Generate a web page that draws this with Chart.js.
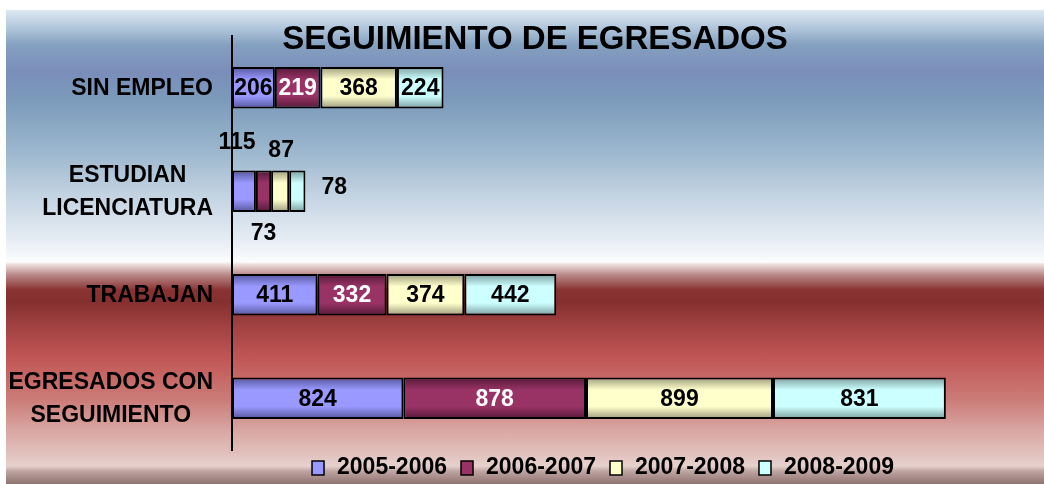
<!DOCTYPE html>
<html>
<head>
<meta charset="utf-8">
<script src="https://cdn.jsdelivr.net/npm/chart.js@4.4.0/dist/chart.umd.min.js"></script>
<style>
html,body{margin:0;padding:0;background:#fff;}
#wrap{position:relative;width:1044px;height:484px;overflow:hidden;}
#bg{position:absolute;left:6px;top:10px;width:1038px;height:474px;
background:linear-gradient(to bottom,
#dde9f3 0px,#acc2d8 20px,#84a0c0 35px,#7a8db9 62px,#7b9bbb 90px,#9bb6cd 140px,#c7d6e4 190px,#e6edf4 230px,#fbfcfd 252px,
#f0e2e0 254px,#b88888 265px,#8a3232 280px,#853030 292px,#a54444 320px,#c25856 350px,#cb7c78 390px,#d9a6a2 420px,#e2c2be 445px,#e6d2ce 456px,#c0a6a2 461px,#8e7270 474px);}
canvas{position:absolute;left:0;top:0;}
</style>
</head>
<body>
<div id="wrap"><div id="bg"></div><canvas id="c" width="1044" height="484"></canvas></div>
<script>
const chartTitle = 'SEGUIMIENTO DE EGRESADOS';
const categories = [['SIN EMPLEO'], ['ESTUDIAN', 'LICENCIATURA'], ['TRABAJAN'], ['EGRESADOS CON', 'SEGUIMIENTO']];
const seriesNames = ['2005-2006', '2006-2007', '2007-2008', '2008-2009'];
const values2005_2006 = [206, 115, 411, 824];
const values2006_2007 = [219, 73, 332, 878];
const values2007_2008 = [368, 87, 374, 899];
const values2008_2009 = [224, 78, 442, 831];

const baseColors = ['#9999ff', '#993366', '#ffffcc', '#ccffff'];
const darkColors = ['#56569c', '#551a38', '#9c9c7c', '#7c9e9e'];
const FONT = '"Liberation Sans", Arial, sans-serif';
const CAT_PCT = 0.4;

function barFill(di) {
  return function (ctx) {
    const chart = ctx.chart;
    const y = chart.scales && chart.scales.y;
    if (!y || ctx.type !== 'data' || !isFinite(y.top)) return baseColors[di];
    const c = y.getPixelForValue(ctx.dataIndex);
    const half = (y.height / categories.length) * CAT_PCT / 2;
    const g = chart.ctx.createLinearGradient(0, c - half, 0, c + half);
    g.addColorStop(0, darkColors[di]);
    g.addColorStop(0.3, baseColors[di]);
    g.addColorStop(0.7, baseColors[di]);
    g.addColorStop(1, darkColors[di]);
    return g;
  };
}

const seriesData = [values2005_2006, values2006_2007, values2007_2008, values2008_2009];
const datasets = seriesNames.map((name, di) => ({
  label: name,
  data: seriesData[di],
  backgroundColor: barFill(di),
  borderColor: '#000',
  borderWidth: 2,
  borderSkipped: false,
  categoryPercentage: CAT_PCT,
  barPercentage: 1.0
}));

// label offsets for the small "ESTUDIAN" bar whose labels sit outside
const outsideOffsets = { 1: [[-7, -50], [0, 41], [1, -42], [37, -5]] };

const valuePlugin = {
  id: 'vals',
  afterDatasetsDraw(chart) {
    const ctx = chart.ctx;
    ctx.save();
    ctx.font = 'bold 23px ' + FONT;
    ctx.textAlign = 'center';
    ctx.textBaseline = 'middle';
    chart.data.datasets.forEach((ds, di) => {
      const meta = chart.getDatasetMeta(di);
      meta.data.forEach((el, i) => {
        let x = (el.x + el.base) / 2, yy = el.y + 1;
        let color = di === 1 ? '#fff' : '#000';
        const off = outsideOffsets[i];
        if (off) { x += off[di][0]; yy += off[di][1]; color = '#000'; }
        ctx.fillStyle = color;
        ctx.fillText(String(ds.data[i]), x, yy);
      });
    });
    ctx.restore();
  }
};

const decorPlugin = {
  id: 'decor',
  afterDraw(chart) {
    const ctx = chart.ctx;
    const y = chart.scales.y;
    ctx.save();
    // title
    ctx.fillStyle = '#000';
    ctx.font = 'bold 33px ' + FONT;
    ctx.textAlign = 'center';
    ctx.textBaseline = 'middle';
    ctx.fillText(chartTitle, 535, 40);
    // category labels: block right-aligned, lines centred
    ctx.font = 'bold 23px ' + FONT;
    const right = 213, lh = 33;
    categories.forEach((lines, i) => {
      const cy = y.getPixelForValue(i) + 1;
      const maxW = Math.max(...lines.map(l => ctx.measureText(l).width));
      const cx = right - maxW / 2;
      lines.forEach((l, k) => {
        ctx.fillText(l, cx, cy + (k - (lines.length - 1) / 2) * lh);
      });
    });
    // legend
    ctx.font = 'bold 23px ' + FONT;
    ctx.textAlign = 'left';
    const box = 12, gapBox = 13, gapItem = 14, ly = 468;
    const widths = seriesNames.map(n => box + gapBox + ctx.measureText(n).width);
    const total = widths.reduce((a, b) => a + b, 0) + gapItem * (seriesNames.length - 1);
    let x = 603 - total / 2;
    seriesNames.forEach((n, di) => {
      ctx.fillStyle = baseColors[di];
      ctx.fillRect(x, ly - 7, box, 14);
      ctx.lineWidth = 1.5;
      ctx.strokeStyle = '#000';
      ctx.strokeRect(x, ly - 7, box, 14);
      ctx.fillStyle = '#000';
      ctx.fillText(n, x + box + gapBox, ly);
      x += widths[di] + gapItem;
    });
    ctx.restore();
  }
};

new Chart(document.getElementById('c'), {
  type: 'bar',
  data: { labels: categories, datasets },
  options: {
    indexAxis: 'y',
    responsive: false,
    animation: false,
    devicePixelRatio: 1,
    layout: { padding: { left: 0, right: 84, top: 36, bottom: 34 } },
    scales: {
      x: { stacked: true, display: false, min: 0, max: 3500 },
      y: {
        stacked: true,
        ticks: { display: false },
        grid: { display: false, drawTicks: false },
        border: { display: true, color: '#000', width: 2 },
        afterFit(s) { s.width = 232; }
      }
    },
    plugins: { legend: { display: false }, tooltip: { enabled: false }, title: { display: false } }
  },
  plugins: [valuePlugin, decorPlugin]
});
</script>
</body>
</html>
